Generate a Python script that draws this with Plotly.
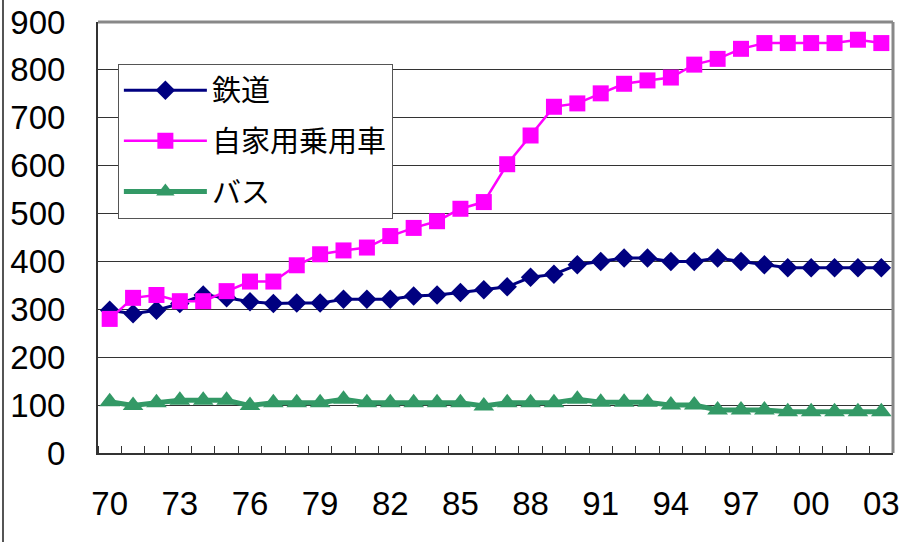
import plotly.graph_objects as go

years = list(range(1970, 2004))
tick_years = list(range(1970, 2004, 3))
tick_labels = ["70", "73", "76", "79", "82", "85", "88", "91", "94", "97", "00", "03"]

series_names = ["鉄道", "自家用乗用車", "バス"]

rail = [298, 291, 298, 312, 330, 324, 316, 312, 313, 313, 321, 321, 321, 328, 330, 335,
        341, 347, 367, 373, 393, 400, 407, 407, 400, 400, 407, 400, 393, 387, 387, 387, 387, 387]
car = [280, 324, 330, 317, 317, 338, 358, 358, 392, 415, 423, 429, 453, 470, 484, 510,
       524, 603, 663, 723, 730, 751, 771, 778, 784, 811, 823, 844, 856, 856, 856, 856, 863, 856]
bus = [107, 99, 105, 110, 110, 110, 99, 105, 105, 105, 112, 105, 105, 105, 105, 105,
       98, 105, 105, 105, 112, 106, 106, 106, 100, 100, 90, 90, 90, 86, 86, 86, 86, 86]

fig = go.Figure()
fig.add_trace(go.Scatter(
    x=years, y=rail, name=series_names[0], mode="lines+markers", legendgroup="a",
    line=dict(color="#000080", width=3),
    marker=dict(symbol="diamond", size=15, color="#000080")))
fig.add_trace(go.Scatter(
    x=years, y=car, name=series_names[1], mode="lines+markers", legendgroup="b",
    line=dict(color="#FF00FF", width=2.5),
    marker=dict(symbol="square", size=16, color="#FF00FF")))
fig.add_trace(go.Scatter(
    x=years, y=bus, name=series_names[2], mode="lines+markers", legendgroup="c",
    line=dict(color="#339966", width=5),
    marker=dict(symbol="triangle-up", size=18, color="#339966")))

axis_font = dict(family="Liberation Sans, Arial, sans-serif", size=33, color="#000000")

fig.update_layout(
    width=903, height=542,
    margin=dict(l=98, r=10, t=22, b=89, autoexpand=False),
    paper_bgcolor="#FFFFFF", plot_bgcolor="#FFFFFF",
    showlegend=True,
    legend=dict(
        x=0.025, y=0.903, xanchor="left", yanchor="top",
        bgcolor="#FFFFFF", bordercolor="#555555", borderwidth=1,
        font=dict(family="Noto Sans CJK JP", size=29, color="#000000"),
        itemwidth=83, tracegroupgap=10,
    ),
    xaxis=dict(
        range=[1969.5, 2003.5], tickmode="array", tickvals=tick_years, ticktext=tick_labels,
        ticks="", showgrid=False, zeroline=False, automargin=False,
        showline=True, linecolor="#333333", linewidth=2,
        tickfont=axis_font, ticklabelstandoff=20,
        minor=dict(tick0=1969.5, dtick=1, ticks="inside", ticklen=7, tickcolor="#333333",
                   tickwidth=1, showgrid=False),
    ),
    yaxis=dict(
        range=[0, 900], dtick=100, ticks="", showgrid=True, gridcolor="#333333", gridwidth=1,
        zeroline=False, showline=True, linecolor="#333333", linewidth=2, automargin=False,
        tickfont=axis_font, ticklabelstandoff=24,
    ),
    shapes=[
        dict(type="line", xref="paper", yref="paper", x0=0, x1=1, y0=1, y1=1,
             line=dict(color="#888888", width=3)),
        dict(type="line", xref="paper", yref="paper", x0=1, x1=1, y0=0, y1=1,
             line=dict(color="#888888", width=3)),
        dict(type="line", xref="paper", yref="paper", x0=-0.1195, x1=-0.1195, y0=-0.21, y1=1.06,
             line=dict(color="#555555", width=2)),
    ],
)

fig.write_html("out.html")
